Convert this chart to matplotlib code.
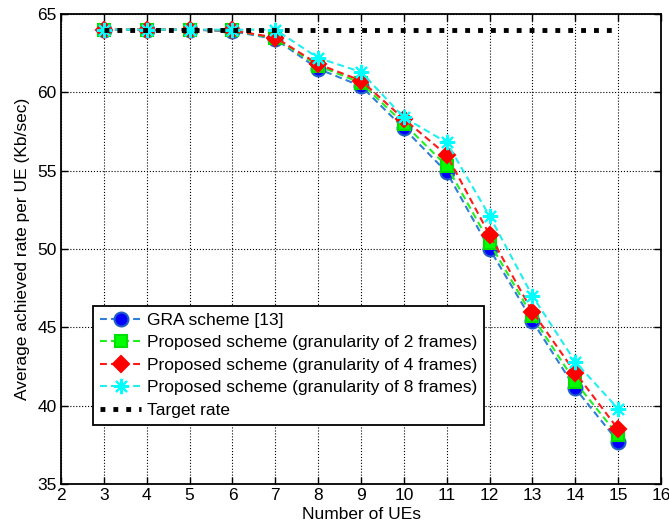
import matplotlib

matplotlib.use("Agg")

import matplotlib.pyplot as plt

plt.rcParams["font.family"] = ["Liberation Sans", "DejaVu Sans"]
plt.rcParams["font.size"] = 12.5

num_ues = [3, 4, 5, 6, 7, 8, 9, 10, 11, 12, 13, 14, 15]
gra_rate = [64.0, 64.0, 64.0, 63.9, 63.4, 61.5, 60.4, 57.7, 54.9, 50.0, 45.4, 41.1, 37.7]
gran2_rate = [64.0, 64.0, 64.0, 63.95, 63.45, 61.7, 60.6, 58.0, 55.3, 50.4, 45.7, 41.5, 38.1]
gran4_rate = [64.0, 64.0, 64.0, 63.95, 63.5, 61.8, 60.75, 58.3, 56.0, 50.9, 46.0, 42.1, 38.5]
gran8_rate = [64.0, 64.0, 64.0, 64.0, 64.0, 62.2, 61.3, 58.4, 56.8, 52.1, 47.0, 42.8, 39.8]
target_rate = [64.0] * len(num_ues)

x_ticks = list(range(2, 17))
y_ticks = [35, 40, 45, 50, 55, 60, 65]

series = [
    ("GRA scheme [13]", gra_rate, "#2f7fd6", "#0000ff", "#1f5fc8", "o", 10),
    ("Proposed scheme (granularity of 2 frames)", gran2_rate, "#22ee22", "#00ff00", "#00e000", "s", 9),
    ("Proposed scheme (granularity of 4 frames)", gran4_rate, "#ff1a1a", "#ff0000", "#ff0000", "D", 8.5),
    ("Proposed scheme (granularity of 8 frames)", gran8_rate, "#22eeee", "#00ffff", "#00ffff", (8, 2, 0), 11),
]

fig = plt.figure(figsize=(6.69, 5.31), dpi=100)
ax = fig.add_axes([0.0912, 0.0885, 0.8969, 0.8851])

for label, values, line_color, face, edge, marker, size in series:
    ax.plot(
        num_ues,
        values,
        linestyle="--",
        dashes=(3.3, 2.0),
        linewidth=1.5,
        color=line_color,
        marker=marker,
        markersize=size,
        markerfacecolor=face,
        markeredgecolor=edge,
        markeredgewidth=1.5,
        label=label,
    )

ax.plot(
    num_ues,
    target_rate,
    linestyle=":",
    linewidth=3.5,
    color="black",
    dash_capstyle="butt",
    label="Target rate",
)

ax.set_xlim(2, 16)
ax.set_ylim(35, 65)
ax.set_xticks(x_ticks)
ax.set_yticks(y_ticks)
ax.grid(True, color="black", linestyle=":", linewidth=0.8)
ax.tick_params(direction="in", top=True, right=True, length=5, width=1, pad=3)
for spine in ax.spines.values():
    spine.set_linewidth(1.3)

ax.set_xlabel("Number of UEs", labelpad=3)
ax.set_ylabel("Average achieved rate per UE (Kb/sec)", labelpad=5)

legend = ax.legend(
    loc="upper left",
    bbox_to_anchor=(0.053, 0.379),
    borderaxespad=0,
    fancybox=False,
    framealpha=1,
    edgecolor="black",
    handlelength=2.4,
    handletextpad=0.3,
    labelspacing=0.42,
    borderpad=0.4,
)
legend.get_frame().set_linewidth(1.3)

fig.savefig("out.png", dpi=100)
plt.close(fig)
